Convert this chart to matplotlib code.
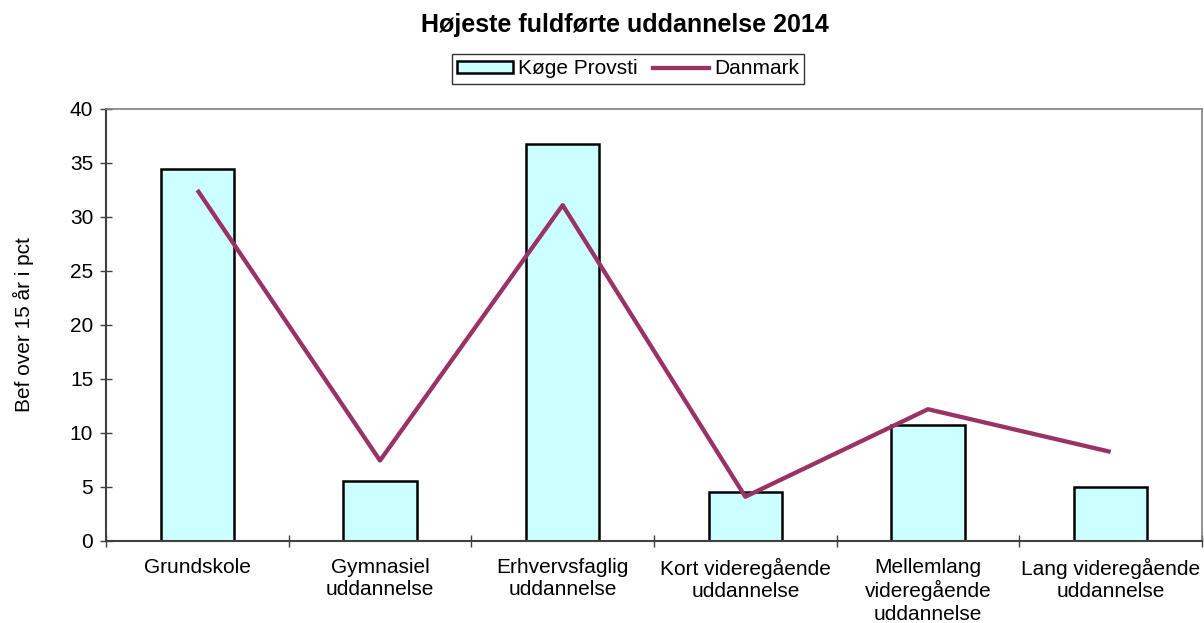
import matplotlib
matplotlib.use("Agg")
import matplotlib.pyplot as plt
import numpy as np
from matplotlib.patches import Patch
from matplotlib.lines import Line2D

plt.rcParams['font.family'] = ['Liberation Sans', 'DejaVu Sans']

categories = ["Grundskole", "Gymnasiel\nuddannelse", "Erhvervsfaglig\nuddannelse",
              "Kort videregående\nuddannelse", "Mellemlang\nvideregående\nuddannelse",
              "Lang videregående\nuddannelse"]
koege = [34.4, 5.6, 36.8, 4.5, 10.7, 5.0]
danmark = [32.5, 7.45, 31.1, 4.1, 12.2, 8.25]
yticks = [0, 5, 10, 15, 20, 25, 30, 35, 40]

bar_color = '#CCFFFF'
line_color = '#993366'
fs = 15

fig = plt.figure(figsize=(12.04, 6.23), dpi=100)
ax = fig.add_axes([106/1204, 1-541/623, (1202-106)/1204, (541-109)/623])

x = np.arange(len(categories))
ax.bar(x, koege, width=0.4, color=bar_color, edgecolor='black', linewidth=1.8, zorder=2)
ax.plot(x, danmark, color=line_color, linewidth=3.1, solid_capstyle='butt', zorder=3)

ax.set_xlim(-0.5, len(categories) - 0.5)
ax.set_ylim(0, 40)
ax.set_yticks(yticks)
ax.tick_params(axis='y', which='major', direction='inout', length=8.5, width=1,
               color='#404040', labelsize=fs, pad=5)

ax.set_xticks(np.arange(-0.5, len(categories), 1.0))
ax.set_xticklabels([])
ax.set_xticks(x, minor=True)
ax.set_xticklabels(categories, minor=True, linespacing=1.22)
ax.tick_params(axis='x', which='major', direction='inout', length=8.5, width=1, color='#404040')
ax.tick_params(axis='x', which='minor', length=0, labelsize=fs, pad=12)

for s in ['left', 'bottom']:
    ax.spines[s].set_color('#404040')
    ax.spines[s].set_linewidth(1.5)
for s in ['top', 'right']:
    ax.spines[s].set_color('#808080')
    ax.spines[s].set_linewidth(1.2)

ax.set_ylabel("Bef over 15 år i pct", fontsize=fs)
ax.yaxis.set_label_coords(23/1204, 0.5 * (2 - 541/623 - 109/623), transform=fig.transFigure)
ax.yaxis.label.set_va('center')

fig.text(625/1204, 1-25/623, "Højeste fuldførte uddannelse 2014", fontsize=18,
         fontweight='bold', ha='center', va='center')

handles = [Patch(facecolor=bar_color, edgecolor='black', linewidth=1.8, label='Køge Provsti'),
           Line2D([0], [0], color=line_color, linewidth=3.1, label='Danmark')]
leg = fig.legend(handles=handles, loc='center', bbox_to_anchor=(628/1204, 1-69/623), ncol=2,
                 fontsize=fs, frameon=True, fancybox=False, edgecolor='black',
                 handlelength=2.7, handleheight=0.5, handletextpad=0.25, columnspacing=0.7,
                 borderpad=0.25, borderaxespad=0)
leg.get_frame().set_linewidth(1)

fig.savefig("out.png", dpi=100)
